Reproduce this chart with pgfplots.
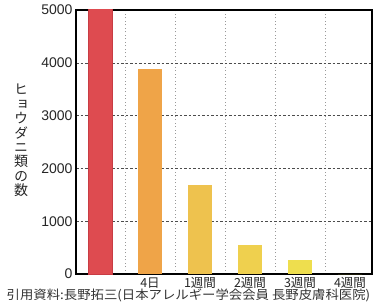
\documentclass[border=0pt]{standalone}
\usepackage{fontspec}
\setmainfont{Liberation Sans}
\newfontfamily\cjk{Noto Sans CJK JP}
\newfontfamily\cjkv[RawFeature=+vert]{Noto Sans CJK JP}
\usepackage{pgfplots}
\pgfplotsset{compat=1.18}
\definecolor{cRed}{HTML}{DE4B50}
\definecolor{cRedB}{HTML}{C83C44}
\definecolor{cOr}{HTML}{EFA448}
\definecolor{cY1}{HTML}{EEC24E}
\definecolor{cY2}{HTML}{EFD04E}
\definecolor{cY3}{HTML}{EEDE4E}
\begin{document}
\begin{tikzpicture}[x=1pt,y=1pt]
\clip (0,0) rectangle (377,306);
\useasboundingbox (0,0) rectangle (377,306);
\begin{axis}[
  at={(76pt,32pt)}, anchor=south west,
  width=296pt, height=264pt, scale only axis,
  xmin=-0.48, xmax=5.44, ymin=0, ymax=5000,
  axis line style={line width=1.6pt, black},
  ytick={0,1000,2000,3000,4000,5000},
  /pgf/number format/assume math mode=true,
  /pgf/number format/1000 sep={},
  scaled y ticks=false,
  yticklabel style={font=\fontsize{14}{14}\selectfont, text=black!85},
  tick style={draw=none},
  major tick length=0pt,
  grid=major,
  y grid style={black!70, dash pattern=on 2.5pt off 2pt, line width=0.6pt},
  x grid style={black!40, dash pattern=on 1pt off 2.5pt, line width=0.8pt},
  xtick={0.5,1.5,2.5,3.5,4.5},
  xticklabels={},
  extra x ticks={1,2,3,4,5},
  extra x tick labels={4日,1週間,2週間,3週間,4週間},
  extra x tick style={grid=none,
     xticklabel style={font=\cjk\fontsize{12.5}{12.5}\selectfont, text=black!85}},
  ybar, bar width=24pt,
]
\addplot[fill=cRed, draw=cRedB, line width=0.8pt, bar shift=0pt] coordinates {(0,5300)};
\addplot[fill=cOr, draw=none, bar shift=0pt] coordinates {(1,3880)};
\addplot[fill=cY1, draw=none, bar shift=0pt] coordinates {(2,1690)};
\addplot[fill=cY2, draw=none, bar shift=0pt] coordinates {(3,540)};
\addplot[fill=cY3, draw=none, bar shift=0pt] coordinates {(4,270)};
\addplot[fill=cY3, draw=none, bar shift=0pt] coordinates {(5,0)};
\end{axis}
\node[align=center, font=\cjkv\fontsize{14}{14.4}\selectfont, text=black!85] at (21,165.5)
  {ヒ\\ョ\\ウ\\ダ\\ニ\\類\\の\\数};
\node[font=\cjk\fontsize{12.5}{12.5}\selectfont, text=black!80, anchor=south, xscale=1.07] at (188.5,0.3)
  {引用資料:長野拓三(日本アレルギー学会会員 長野皮膚科医院)};
\end{tikzpicture}
\end{document}
